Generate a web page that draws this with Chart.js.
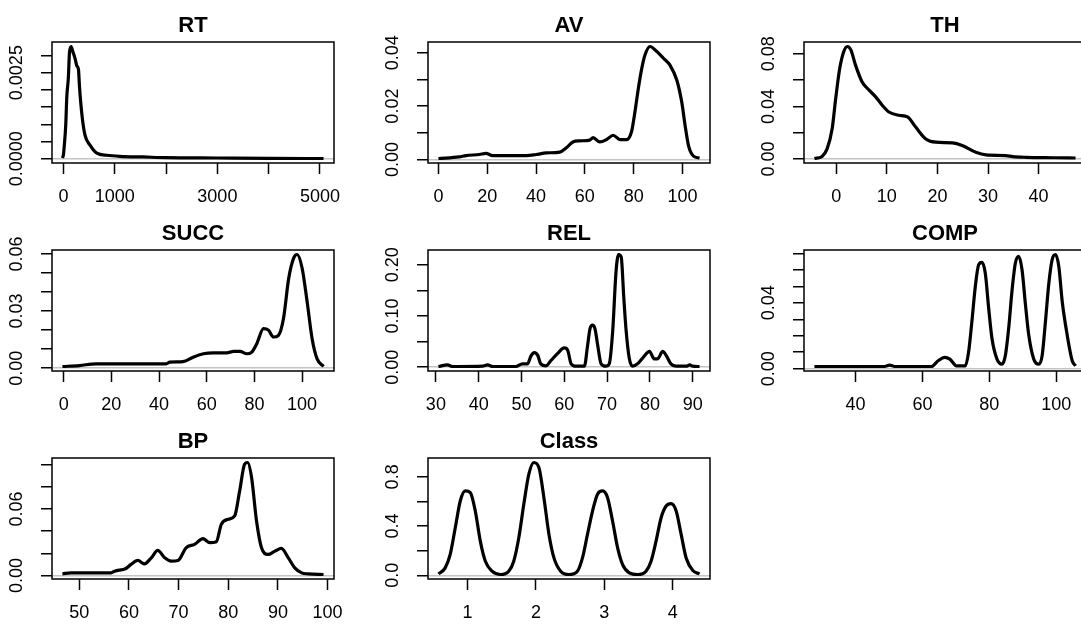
<!DOCTYPE html>
<html>
<head>
<meta charset="utf-8">
<script src="https://cdn.jsdelivr.net/npm/chart.js@4.4.0/dist/chart.umd.min.js"></script>
<style>
html,body{margin:0;padding:0;background:#fff;overflow:hidden;}
#wrap{position:relative;width:1081px;height:624px;overflow:hidden;background:#fff;}
#wrap canvas{position:absolute;}
</style>
</head>
<body>
<div id="wrap"></div>
<script>
// ---------------- data ----------------
const titles = ['RT', 'AV', 'TH', 'SUCC', 'REL', 'COMP', 'BP', 'Class'];

const rtX = [-20, 0, 15, 45, 65, 95, 118, 150, 185, 228, 260, 292, 312, 358, 417, 515, 650, 845, 1100, 1560, 2000, 3000, 4000, 5070];
const rtY = [0.00002, 0.00012, 0.00036, 0.0010, 0.0018, 0.00235, 0.0031, 0.00326, 0.0031, 0.0029, 0.0027, 0.0026, 0.0021, 0.0013, 0.0007, 0.0004, 0.00016, 0.0001, 0.00007, 0.00005, 0.00003, 0.00002, 0.00001, 0.000005];

const avX = [0, 8.5, 11.3, 16.7, 19.5, 22.2, 36, 40, 44.2, 49.7, 52.4, 55.1, 57.9, 62, 63.4, 66.1, 68.9, 71.6, 74.4, 77.1, 79.2, 80.5, 81.9, 83.3, 84.6, 86.7, 89.5, 92.2, 94.9, 97.7, 99.7, 101.1, 102.5, 104.5, 107];
const avY = [0.0004, 0.001, 0.0015, 0.0019, 0.0023, 0.0015, 0.0015, 0.0019, 0.0025, 0.0028, 0.0044, 0.0066, 0.007, 0.0073, 0.0082, 0.0066, 0.0075, 0.0091, 0.0075, 0.0075, 0.0107, 0.0177, 0.0265, 0.034, 0.039, 0.0423, 0.0404, 0.0379, 0.0353, 0.0297, 0.0215, 0.0126, 0.0051, 0.0013, 0.0006];

const thX = [-4.3, -2.8, -1.8, -0.8, -0.1, 0.7, 1.5, 2.2, 2.9, 3.8, 5.1, 6.5, 7.8, 9.1, 10.4, 12.4, 14.1, 15.7, 17.7, 19.7, 23, 24.9, 27.6, 29.6, 33.5, 34.9, 37.5, 42.8, 47.3];
const thY = [0.0004, 0.002, 0.0077, 0.023, 0.046, 0.069, 0.0818, 0.0856, 0.083, 0.0716, 0.0588, 0.0524, 0.0473, 0.0409, 0.0358, 0.0333, 0.032, 0.0243, 0.0153, 0.0128, 0.0123, 0.0103, 0.0051, 0.0031, 0.0026, 0.0018, 0.0013, 0.001, 0.0008];

const succX = [-0.5, 6.6, 13.6, 22, 43, 44.5, 50, 54.3, 58.6, 62.8, 68.4, 71.3, 74, 76.8, 78.9, 81, 83.8, 85.9, 88, 90.1, 92.2, 94.4, 96.5, 97.9, 100, 102.1, 104.2, 106.3, 109];
const succY = [0.0009, 0.0014, 0.0023, 0.0023, 0.0023, 0.0032, 0.0035, 0.0058, 0.0076, 0.0081, 0.0081, 0.0088, 0.0088, 0.0076, 0.0085, 0.0129, 0.0208, 0.02, 0.0164, 0.0173, 0.0261, 0.0473, 0.0579, 0.0597, 0.0526, 0.035, 0.0155, 0.0049, 0.0009];

const relX = [30.6, 32.7, 33.9, 35.1, 40.9, 42.1, 43.3, 48.7, 50.2, 51.4, 52.2, 53, 53.8, 54.5, 55.7, 56.9, 58.4, 60, 60.8, 61.6, 62.7, 64.7, 65.4, 66.0, 66.6, 67.2, 67.8, 68.6, 69.7, 70.5, 71.3, 72.1, 72.7, 73.3, 73.9, 74.4, 75.2, 76, 77.1, 78.3, 79.9, 81, 81.8, 83, 83.8, 84.9, 86.1, 88.5, 89.3, 90, 91.6];
const relY = [0.0014, 0.0046, 0.0014, 0.0014, 0.002, 0.0046, 0.0014, 0.0014, 0.0066, 0.0066, 0.0218, 0.0284, 0.0231, 0.0066, 0.0027, 0.0132, 0.0265, 0.0377, 0.033, 0.0066, 0.002, 0.002, 0.0397, 0.075, 0.082, 0.074, 0.043, 0.0066, 0.002, 0.0066, 0.0694, 0.188, 0.22, 0.215, 0.136, 0.076, 0.0165, 0.002, 0.0066, 0.0179, 0.031, 0.0165, 0.0165, 0.031, 0.0231, 0.0066, 0.002, 0.002, 0.0046, 0.002, 0.0014];

const compX = [27.7, 48.7, 50.2, 51.7, 62.7, 64.7, 66.7, 68.2, 70.2, 72.8, 73.8, 74.8, 75.8, 76.8, 77.8, 78.8, 79.8, 80.8, 82.3, 83.8, 84.8, 85.8, 86.8, 87.8, 88.8, 89.8, 90.8, 91.8, 93.3, 94.8, 95.8, 96.8, 97.8, 98.8, 99.8, 100.8, 101.8, 103.3, 104.8, 105.8];
const compY = [0.0013, 0.0013, 0.0021, 0.0013, 0.0013, 0.0048, 0.0069, 0.0058, 0.0017, 0.0017, 0.01, 0.0288, 0.0496, 0.0631, 0.0646, 0.058, 0.037, 0.0183, 0.0058, 0.0027, 0.0079, 0.0246, 0.0475, 0.0642, 0.0683, 0.06, 0.0392, 0.0204, 0.0058, 0.0027, 0.0079, 0.0288, 0.0517, 0.0663, 0.0694, 0.062, 0.041, 0.0204, 0.0048, 0.0017];

const bpX = [46.6, 48.3, 56.4, 57.1, 59.4, 60.4, 61.8, 63.1, 64.5, 65.8, 67.2, 68.5, 69.9, 71.5, 73.2, 74.9, 76.3, 77.6, 78.6, 80, 81.3, 82.3, 83.3, 83.9, 84.7, 85.7, 86.7, 88, 89.4, 90.7, 92.1, 93.4, 94.8, 96.1, 99.2];
const bpY = [0.0015, 0.0024, 0.0024, 0.0039, 0.0063, 0.01, 0.0136, 0.0105, 0.016, 0.0227, 0.016, 0.013, 0.0136, 0.025, 0.0281, 0.0332, 0.0296, 0.0305, 0.0462, 0.0508, 0.0538, 0.0764, 0.1006, 0.102, 0.0885, 0.0492, 0.025, 0.019, 0.022, 0.0245, 0.016, 0.0069, 0.0024, 0.0015, 0.0009];

const classX = [0.574, 0.673, 0.746, 0.82, 0.893, 0.966, 1.04, 1.113, 1.186, 1.26, 1.358, 1.48, 1.602, 1.675, 1.749, 1.822, 1.896, 1.969, 2.043, 2.116, 2.19, 2.263, 2.361, 2.483, 2.606, 2.68, 2.753, 2.827, 2.9, 2.974, 3.047, 3.12, 3.194, 3.267, 3.364, 3.487, 3.609, 3.683, 3.756, 3.83, 3.903, 3.976, 4.05, 4.123, 4.196, 4.294, 4.392];
const classY = [0.011, 0.06, 0.169, 0.386, 0.604, 0.686, 0.672, 0.522, 0.278, 0.114, 0.033, 0.006, 0.033, 0.114, 0.305, 0.577, 0.822, 0.917, 0.876, 0.631, 0.332, 0.141, 0.033, 0.006, 0.033, 0.141, 0.332, 0.522, 0.659, 0.686, 0.631, 0.441, 0.223, 0.087, 0.02, 0.006, 0.033, 0.114, 0.278, 0.468, 0.563, 0.582, 0.522, 0.332, 0.141, 0.038, 0.011];

// tick positions and their printed labels ('' = tick without a label)
const rtXTicks = [0, 1000, 2000, 3000, 4000, 5000];
const rtXText = ['0', '1000', '', '3000', '', '5000'];
const avXTicks = [0, 20, 40, 60, 80, 100];
const avXText = ['0', '20', '40', '60', '80', '100'];
const thXTicks = [0, 10, 20, 30, 40];
const thXText = ['0', '10', '20', '30', '40'];
const succXTicks = [0, 20, 40, 60, 80, 100];
const succXText = ['0', '20', '40', '60', '80', '100'];
const relXTicks = [30, 40, 50, 60, 70, 80, 90];
const relXText = ['30', '40', '50', '60', '70', '80', '90'];
const compXTicks = [40, 60, 80, 100];
const compXText = ['40', '60', '80', '100'];
const bpXTicks = [50, 60, 70, 80, 90, 100];
const bpXText = ['50', '60', '70', '80', '90', '100'];
const classXTicks = [1, 2, 3, 4];
const classXText = ['1', '2', '3', '4'];

const rtYTicks = [0, 0.0005, 0.001, 0.0015, 0.002, 0.0025, 0.003];
const rtYText = ['0.0000', '', '', '', '', '0.0025', ''];
const avYTicks = [0, 0.01, 0.02, 0.03, 0.04];
const avYText = ['0.00', '', '0.02', '', '0.04'];
const thYTicks = [0, 0.02, 0.04, 0.06, 0.08];
const thYText = ['0.00', '', '0.04', '', '0.08'];
const succYTicks = [0, 0.01, 0.02, 0.03, 0.04, 0.05, 0.06];
const succYText = ['0.00', '', '', '0.03', '', '', '0.06'];
const relYTicks = [0, 0.05, 0.10, 0.15, 0.20];
const relYText = ['0.00', '', '0.10', '', '0.20'];
const compYTicks = [0, 0.01, 0.02, 0.03, 0.04, 0.05, 0.06, 0.07];
const compYText = ['0.00', '', '', '', '0.04', '', '', ''];
const bpYTicks = [0, 0.02, 0.04, 0.06, 0.08, 0.10];
const bpYText = ['0.00', '', '', '0.06', '', ''];
const classYTicks = [0, 0.2, 0.4, 0.6, 0.8];
const classYText = ['0.0', '', '0.4', '', '0.8'];

// ---------------- layout / style ----------------
const FONT = '"Liberation Sans", Arial, Helvetica, sans-serif';
const TICK_SIZE = 18;
const TITLE_SIZE = 22;
const FIG_W = 376, FIG_H = 208;
const BOX_LEFT = 52, BOX_TOP = 42, BOX_RIGHT_GAP = 42, BOX_BOTTOM_GAP = 45;
const TICK_LEN = 11;
const YLAB_CENTER = 17.5;

Chart.defaults.font.family = FONT;
Chart.defaults.font.size = TICK_SIZE;
Chart.defaults.color = '#000';

const meas = document.createElement('canvas').getContext('2d');
meas.font = TICK_SIZE + 'px ' + FONT;

const rFrame = {
  id: 'rFrame',
  afterDraw(chart, args, opts) {
    const {ctx, chartArea: a} = chart;
    ctx.save();
    ctx.strokeStyle = '#000';
    ctx.lineWidth = 1.5;
    ctx.strokeRect(a.left, a.top, a.right - a.left, a.bottom - a.top);
    ctx.font = 'bold ' + TITLE_SIZE + 'px ' + FONT;
    ctx.fillStyle = '#000';
    ctx.textAlign = 'center';
    ctx.textBaseline = 'alphabetic';
    ctx.fillText(opts.text, (a.left + a.right) / 2, 31.5);
    ctx.restore();
  }
};

const panels = [
  {x: rtX, y: rtY, xt: rtXTicks, xl: rtXText, yt: rtYTicks, yl: rtYText},
  {x: avX, y: avY, xt: avXTicks, xl: avXText, yt: avYTicks, yl: avYText},
  {x: thX, y: thY, xt: thXTicks, xl: thXText, yt: thYTicks, yl: thYText},
  {x: succX, y: succY, xt: succXTicks, xl: succXText, yt: succYTicks, yl: succYText},
  {x: relX, y: relY, xt: relXTicks, xl: relXText, yt: relYTicks, yl: relYText},
  {x: compX, y: compY, xt: compXTicks, xl: compXText, yt: compYTicks, yl: compYText},
  {x: bpX, y: bpY, xt: bpXTicks, xl: bpXText, yt: bpYTicks, yl: bpYText},
  {x: classX, y: classY, xt: classXTicks, xl: classXText, yt: classYTicks, yl: classYText}
];

const wrap = document.getElementById('wrap');
panels.forEach((p, i) => {
  const col = i % 3, row = Math.floor(i / 3);
  const cv = document.createElement('canvas');
  cv.width = FIG_W; cv.height = FIG_H;
  cv.style.left = (col * FIG_W) + 'px';
  cv.style.top = (row * FIG_H) + 'px';
  wrap.appendChild(cv);

  // R-style axis ranges: data range extended by 4% at each side
  const x0 = Math.min(...p.x), x1 = Math.max(...p.x);
  const y0 = Math.min(...p.y), y1 = Math.max(...p.y);
  const dx = (x1 - x0) * 0.04, dy = (y1 - y0) * 0.04;
  const widest = Math.max(...p.yl.map(s => meas.measureText(s).width));
  const yPad = BOX_LEFT - YLAB_CENTER - TICK_LEN - widest / 2;

  new Chart(cv, {
    type: 'line',
    data: {
      datasets: [{
        data: p.x.map((xv, k) => ({x: xv, y: p.y[k]})),
        borderColor: '#000',
        borderWidth: 3.2,
        pointRadius: 0,
        fill: false,
        cubicInterpolationMode: 'monotone'
      }]
    },
    options: {
      responsive: false,
      animation: false,
      events: [],
      layout: {padding: {top: BOX_TOP, right: BOX_RIGHT_GAP, left: 0, bottom: 0}},
      plugins: {legend: {display: false}, tooltip: {enabled: false}, title: {display: false}, rFrame: {text: titles[i]}},
      scales: {
        x: {
          type: 'linear',
          min: x0 - dx, max: x1 + dx,
          afterFit(s) { s.height = BOX_BOTTOM_GAP; },
          afterBuildTicks(s) { s.ticks = p.xt.map(v => ({value: v})); },
          border: {display: false},
          grid: {drawOnChartArea: false, drawTicks: true, tickLength: TICK_LEN, tickColor: '#000', tickWidth: 1.5},
          ticks: {
            autoSkip: false, minRotation: 0, maxRotation: 0,
            padding: 12, color: '#000',
            callback: (v, idx) => p.xl[idx]
          }
        },
        y: {
          type: 'linear',
          min: y0 - dy, max: y1 + dy,
          afterFit(s) { s.width = BOX_LEFT; },
          afterBuildTicks(s) { s.ticks = p.yt.map(v => ({value: v})); },
          border: {display: false},
          grid: {
            drawOnChartArea: true, drawTicks: true, tickLength: TICK_LEN, tickColor: '#000', tickWidth: 1.5,
            color: (c) => (c.tick && c.tick.value === 0) ? '#c4c4c4' : 'rgba(0,0,0,0)',
            lineWidth: 1.5
          },
          ticks: {
            autoSkip: false, minRotation: 90, maxRotation: 90,
            crossAlign: 'center', padding: yPad, color: '#000',
            callback: (v, idx) => p.yl[idx]
          }
        }
      }
    },
    plugins: [rFrame]
  });
});
</script>
</body>
</html>
